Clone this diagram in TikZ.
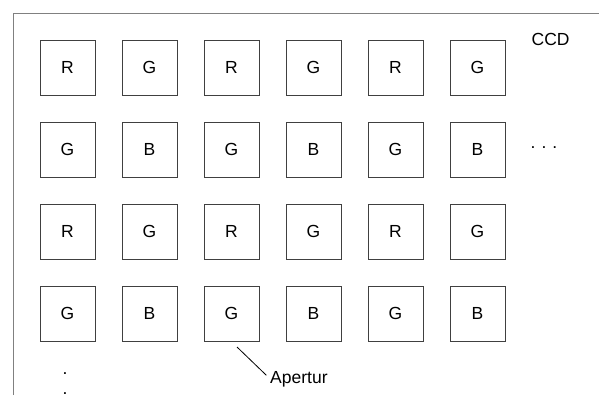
\documentclass[tikz,border=0pt]{standalone}
\usepackage{fontspec}
\setmainfont{Liberation Sans}
\begin{document}
\begin{tikzpicture}[x=1pt, y=-1pt, font=\fontsize{17.5}{20}\selectfont,
  pix/.style = {draw, line width=0.9pt, draw=black!75, minimum size=55pt, inner sep=0pt},
  lbl/.style = {inner sep=0pt}]
  \useasboundingbox (0,0) rectangle (599,415);
  % frame of the chip
  \draw[line width=0.9pt, gray] (13,395) -- (13,13) -- (599,13);
  % row 1
  \node[pix] (11) at (67.5, 67.5) {R};
  \node[pix] (12) at (149.5, 67.5) {G};
  \node[pix] (13) at (231.5, 67.5) {R};
  \node[pix] (14) at (313.5, 67.5) {G};
  \node[pix] (15) at (395.5, 67.5) {R};
  \node[pix] (16) at (477.5, 67.5) {G};
  % row 2
  \node[pix] (21) at (67.5, 149.5) {G};
  \node[pix] (22) at (149.5, 149.5) {B};
  \node[pix] (23) at (231.5, 149.5) {G};
  \node[pix] (24) at (313.5, 149.5) {B};
  \node[pix] (25) at (395.5, 149.5) {G};
  \node[pix] (26) at (477.5, 149.5) {B};
  % row 3
  \node[pix] (31) at (67.5, 231.5) {R};
  \node[pix] (32) at (149.5, 231.5) {G};
  \node[pix] (33) at (231.5, 231.5) {R};
  \node[pix] (34) at (313.5, 231.5) {G};
  \node[pix] (35) at (395.5, 231.5) {R};
  \node[pix] (36) at (477.5, 231.5) {G};
  % row 4
  \node[pix] (41) at (67.5, 313.5) {G};
  \node[pix] (42) at (149.5, 313.5) {B};
  \node[pix] (43) at (231.5, 313.5) {G};
  \node[pix] (44) at (313.5, 313.5) {B};
  \node[pix] (45) at (395.5, 313.5) {G};
  \node[pix] (46) at (477.5, 313.5) {B};
  % labels
  \node[lbl, anchor=base west] (ccd) at (531.5, 45) {CCD};
  \node[lbl, anchor=base west] (hdots) at (530.5, 148) {.\hspace{6pt}.\hspace{6pt}.};
  \node[lbl, anchor=base] (vdot1) at (65, 374) {.};
  \node[lbl, anchor=base] (vdot2) at (65, 394) {.};
  \node[lbl, anchor=base west] (apertur) at (270, 383) {Apertur};
  \coordinate (ap) at (237, 347);
  \draw[line width=0.8pt, shorten >=5pt] (ap) -- (apertur.west);
\end{tikzpicture}
\end{document}
